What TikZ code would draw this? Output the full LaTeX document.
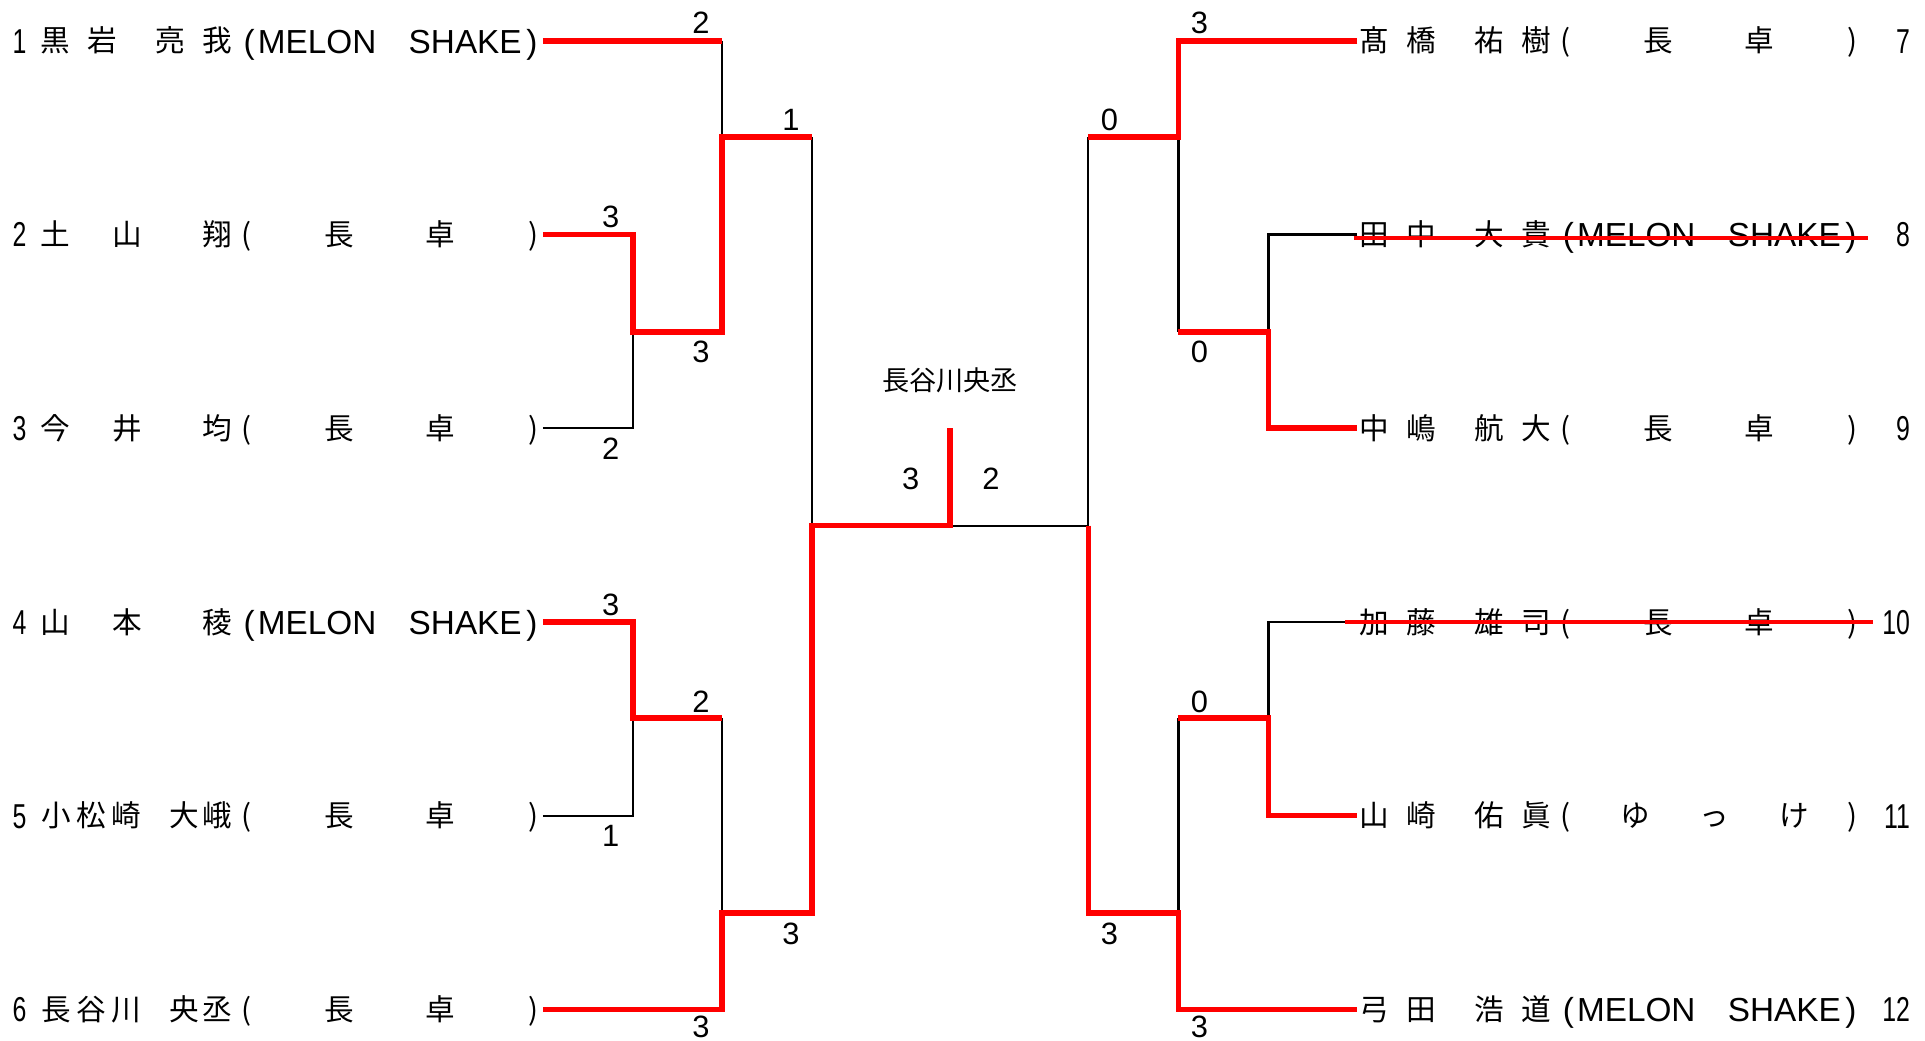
\documentclass[tikz,border=0pt]{standalone}
\usepackage{fontspec}
\setmainfont{Noto Sans CJK JP}
\newfontfamily\lat{Liberation Sans}
\newcommand\chars[3]{\foreach \px/\cc [count=\i] in {#3} {\node[nm] (#1-\i) at (\px,#2+9) {\cc};}}
\newcommand\teamC[3]{%
  \node[nm] (#1-po) at (#2+200,#3+9) {(};
  \node[nm] (#1-t1) at (#2+275,#3+9) {長};
  \node[nm] (#1-t2) at (#2+357,#3+9) {卓};
  \node[nm] (#1-pc) at (#2+432,#3+9) {)};}
\newcommand\teamM[3]{%
  \node[lt] (#1-po) at (#2+202,#3+10) {(};
  \node[lt] (#1-t1) at (#2+257,#3+10) {MELON};
  \node[lt] (#1-t2) at (#2+377,#3+10) {SHAKE};
  \node[lt] (#1-pc) at (#2+431,#3+10) {)};}
\newcommand\teamY[3]{%
  \node[nm] (#1-po) at (#2+200,#3+9) {(};
  \node[nm] (#1-t1) at (#2+256,#3+9) {ゆ};
  \node[nm] (#1-t2) at (#2+320,#3+9) {っ};
  \node[nm] (#1-t3) at (#2+385,#3+9) {け};
  \node[nm] (#1-pc) at (#2+432,#3+9) {)};}
\begin{document}
\begin{tikzpicture}[x=1pt,y=-1pt,
  win/.style={draw=red, line width=4.5pt, line join=miter},
  lose/.style={draw=black, line width=1.8pt},
  strike/.style={draw=red, line width=3.5pt},
  nm/.style={inner sep=0pt, anchor=base, font=\fontsize{24}{24}\selectfont},
  lt/.style={inner sep=0pt, anchor=base, font=\lat\fontsize{27}{27}\selectfont},
  sc/.style={inner sep=0pt, anchor=base, font=\lat\fontsize{25}{25}\selectfont},
  num/.style={inner sep=0pt, font=\lat\fontsize{28}{28}\selectfont}]
\useasboundingbox (0,0) rectangle (1560,843.6);

% ---------- coordinates ----------
\coordinate (l1) at (440,33);  \coordinate (l2) at (440,190); \coordinate (l3) at (440,347);
\coordinate (l4) at (440,504); \coordinate (l5) at (440,661); \coordinate (l6) at (440,818);
\coordinate (r7) at (1100,33);  \coordinate (r8) at (1100,190); \coordinate (r9) at (1100,347);
\coordinate (r10) at (1100,504); \coordinate (r11) at (1100,661); \coordinate (r12) at (1100,818);
\coordinate (a23) at (513,269); \coordinate (a45) at (513,582);
\coordinate (b1) at (585,111);  \coordinate (b2) at (585,740);
\coordinate (c) at (658,426);
\coordinate (f) at (770,426);   \coordinate (ftop) at (770,347);
\coordinate (g) at (882,426);
\coordinate (e1) at (955,111);  \coordinate (e2) at (955,740);
\coordinate (d89) at (1028,269); \coordinate (d1011) at (1028,582);
\coordinate (s8a) at (1097,193); \coordinate (s8b) at (1514,193);
\coordinate (s10a) at (1090,504); \coordinate (s10b) at (1518,504);

% ---------- black (lost) lines ----------
\draw[lose] (l3) -| (a23);
\draw[lose] (b1 |- l1) -- (b1);
\draw[lose] (c |- b1) -- (c);
\draw[lose] (l5) -| (a45);
\draw[lose] (b2 |- a45) -- (b2);
\draw[lose] (f) -- (g);
\draw[lose] (g |- e1) -- (g);
\draw[lose] (e1) -- (e1 |- d89);
\draw[lose] (r8) -| (d89);
\draw[lose] (e2 |- d1011) -- (e2);
\draw[lose] (r10) -| (d1011);

% ---------- red (won) lines ----------
\draw[win] (l1) -- (b1 |- l1);
\draw[win] (l2) -| (a23) -- (b1 |- a23) -- (b1) -- (c |- b1);
\draw[win] (l4) -| (a45) -- (b2 |- a45);
\draw[win] (ftop) -- (f) -- (c) -- (c |- b2) -- (b2) |- (l6);
\draw[win] (r7) -| (e1) -- (g |- e1);
\draw[win] (g) -- (g |- e2) -- (e2) |- (r12);
\draw[win] (e1 |- d89) -- (d89) |- (r9);
\draw[win] (e2 |- d1011) -- (d1011) |- (r11);

% ---------- left players ----------
\node[num, anchor=base west] (n1) at (10,43) {\scalebox{0.72}[1]{1}};
\node[num, anchor=base west] (n2) at (10,200) {\scalebox{0.72}[1]{2}};
\node[num, anchor=base west] (n3) at (10,357) {\scalebox{0.72}[1]{3}};
\node[num, anchor=base west] (n4) at (10,514) {\scalebox{0.72}[1]{4}};
\node[num, anchor=base west] (n5) at (10,671) {\scalebox{0.72}[1]{5}};
\node[num, anchor=base west] (n6) at (10,828) {\scalebox{0.72}[1]{6}};
\chars{p1}{33}{45/黒,83/岩,138/亮,176/我}  \teamM{q1}{0}{33}
\chars{p2}{190}{45/土,103/山,176/翔}       \teamC{q2}{0}{190}
\chars{p3}{347}{45/今,103/井,176/均}       \teamC{q3}{0}{347}
\chars{p4}{504}{45/山,103/本,176/稜}       \teamM{q4}{0}{504}
\chars{p5}{661}{46/小,74/松,102/崎,149/大,176/峨} \teamC{q5}{0}{661}
\chars{p6}{818}{46/長,74/谷,102/川,149/央,176/丞} \teamC{q6}{0}{818}

% ---------- right players ----------
\chars{p7}{33}{1114/髙,1152/橋,1207/祐,1245/樹}    \teamC{q7}{1069}{33}
\chars{p8}{190}{1114/田,1152/中,1207/大,1245/貴}   \teamM{q8}{1069}{190}
\chars{p9}{347}{1114/中,1152/嶋,1207/航,1245/大}   \teamC{q9}{1069}{347}
\chars{p10}{504}{1114/加,1152/藤,1207/雄,1245/司}  \teamC{q10}{1069}{504}
\chars{p11}{661}{1114/山,1152/崎,1207/佑,1245/眞}  \teamY{q11}{1069}{661}
\chars{p12}{818}{1114/弓,1152/田,1207/浩,1245/道}  \teamM{q12}{1069}{818}
\node[num, anchor=base east] (n7) at (1548,43) {\scalebox{0.72}[1]{7}};
\node[num, anchor=base east] (n8) at (1548,200) {\scalebox{0.72}[1]{8}};
\node[num, anchor=base east] (n9) at (1548,357) {\scalebox{0.72}[1]{9}};
\node[num, anchor=base east] (n10) at (1548,514) {\scalebox{0.72}[1]{10}};
\node[num, anchor=base east] (n11) at (1548,671) {\scalebox{0.72}[1]{11}};
\node[num, anchor=base east] (n12) at (1548,828) {\scalebox{0.72}[1]{12}};

% ---------- strike-throughs ----------
\draw[strike] (s8a) -- (s8b);
\draw[strike] (s10a) -- (s10b);

% ---------- scores ----------
\node[sc] (sa) at (568,27) {2};
\node[sc] (sb) at (641,106) {1};
\node[sc] (sc1) at (495,184) {3};
\node[sc] (sd) at (568,294) {3};
\node[sc] (se) at (495,372) {2};
\node[sc] (sf) at (495,499) {3};
\node[sc] (sg) at (568,577) {2};
\node[sc] (sh) at (495,686) {1};
\node[sc] (si) at (641,765) {3};
\node[sc] (sj) at (568,841) {3};
\node[sc] (fl) at (738,397) {3};
\node[sc] (fr) at (803,397) {2};
\node[sc] (sk) at (972,27) {3};
\node[sc] (sl) at (899,106) {0};
\node[sc] (sm) at (972,294) {0};
\node[sc] (sn) at (972,577) {0};
\node[sc] (so) at (899,765) {3};
\node[sc] (sp) at (972,841) {3};

% ---------- champion ----------
\node[inner sep=0pt, font=\fontsize{22}{22}\selectfont, anchor=center] (champ) at (770,308) {長谷川央丞};
\end{tikzpicture}
\end{document}
